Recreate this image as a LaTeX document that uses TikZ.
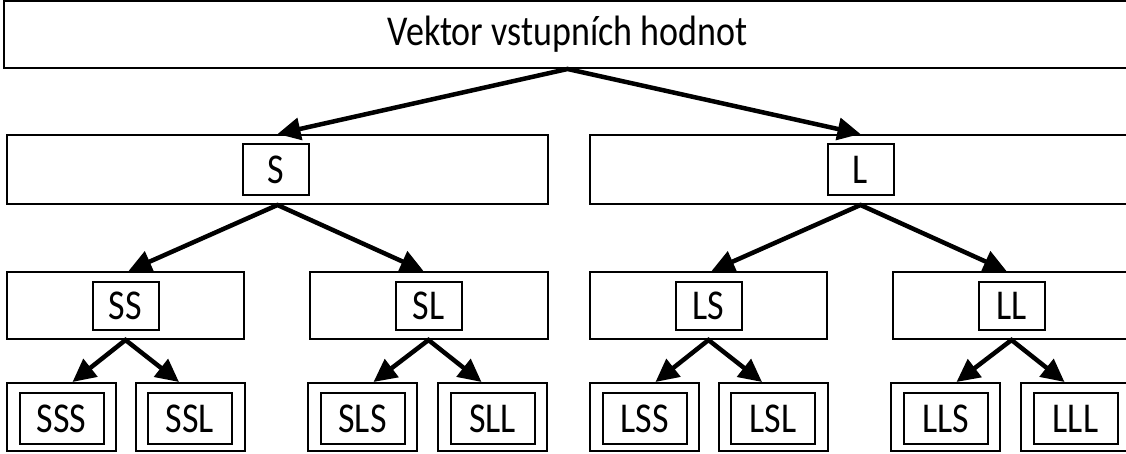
\documentclass[tikz,border=0pt]{standalone}
\usepackage{fontspec}
\setmainfont{Carlito}
\usetikzlibrary{arrows.meta}
\newcommand\boxfont{\fontsize{36}{40}\selectfont}
\newcommand\tall[1]{\scalebox{1}[1.18]{#1}}
\begin{document}
\begin{tikzpicture}[x=1pt,y=-1pt,
  box/.style={draw, line width=2pt, rectangle, inner sep=0pt},
  tag/.style={draw, line width=2pt, rectangle, inner sep=0pt, font=\boxfont},
  fork/.style={line width=4.5pt, line join=miter,
    {Triangle[length=23pt,width=22pt]}-{Triangle[length=23pt,width=22pt]}}
]
\useasboundingbox (0,0) rectangle (1126,454);
\clip (0,0) rectangle (1126,454);

% level 1: input vector
\node[box, minimum width=1127pt, minimum height=67pt, font=\boxfont]
  (top) at (567.5,34.5) {\tall{Vektor vstupních hodnot}};

% level 2
\node[box, minimum width=541pt, minimum height=69pt] (S) at (277.5,169.5) {};
\node[tag, minimum width=66pt, minimum height=51pt] (Stag) at (276,169.5) {\tall{S}};
\node[box, minimum width=541pt, minimum height=69pt] (L) at (860.5,169.5) {};
\node[tag, minimum width=66pt, minimum height=51pt] (Ltag) at (860.5,169.5) {\tall{L}};

% level 3
\foreach \n/\x/\w in {SS/125.5/237, SL/428.5/238, LS/708.5/237, LL/1011.5/238}{
  \node[box, minimum width=\w pt, minimum height=67pt] (\n) at (\x,305.5) {};
  \node[tag, minimum width=66pt, minimum height=48pt] (\n tag) at (\x,305.5) {\tall{\n}};
}

% level 4: leaves with double frame
\foreach \n/\x in {SSS/61.5, SSL/190, SLS/362.5, SLL/492.5,
                   LSS/644.5, LSL/773, LLS/945.5, LLL/1075.5}{
  \node[box, minimum width=109pt, minimum height=68pt] (\n) at (\x,417) {};
  \node[tag, minimum width=84pt, minimum height=51pt] (\n tag) at (\x,418.5) {\tall{\n}};
}

% connectors
\draw[fork] (S.north) -- (top.south) -- (L.north);
\draw[fork] ([xshift=3pt]SS.north) -- (S.south) -- ([xshift=-5pt]SL.north);
\draw[fork] ([xshift=3pt]LS.north) -- (L.south) -- ([xshift=-5pt]LL.north);
\draw[fork] ([xshift=11pt]SSS.north) -- (SS.south) -- ([xshift=-11pt]SSL.north);
\draw[fork] ([xshift=11pt]SLS.north) -- (SL.south) -- ([xshift=-11pt]SLL.north);
\draw[fork] ([xshift=11pt]LSS.north) -- (LS.south) -- ([xshift=-11pt]LSL.north);
\draw[fork] ([xshift=11pt]LLS.north) -- (LL.south) -- ([xshift=-11pt]LLL.north);
\end{tikzpicture}
\end{document}
